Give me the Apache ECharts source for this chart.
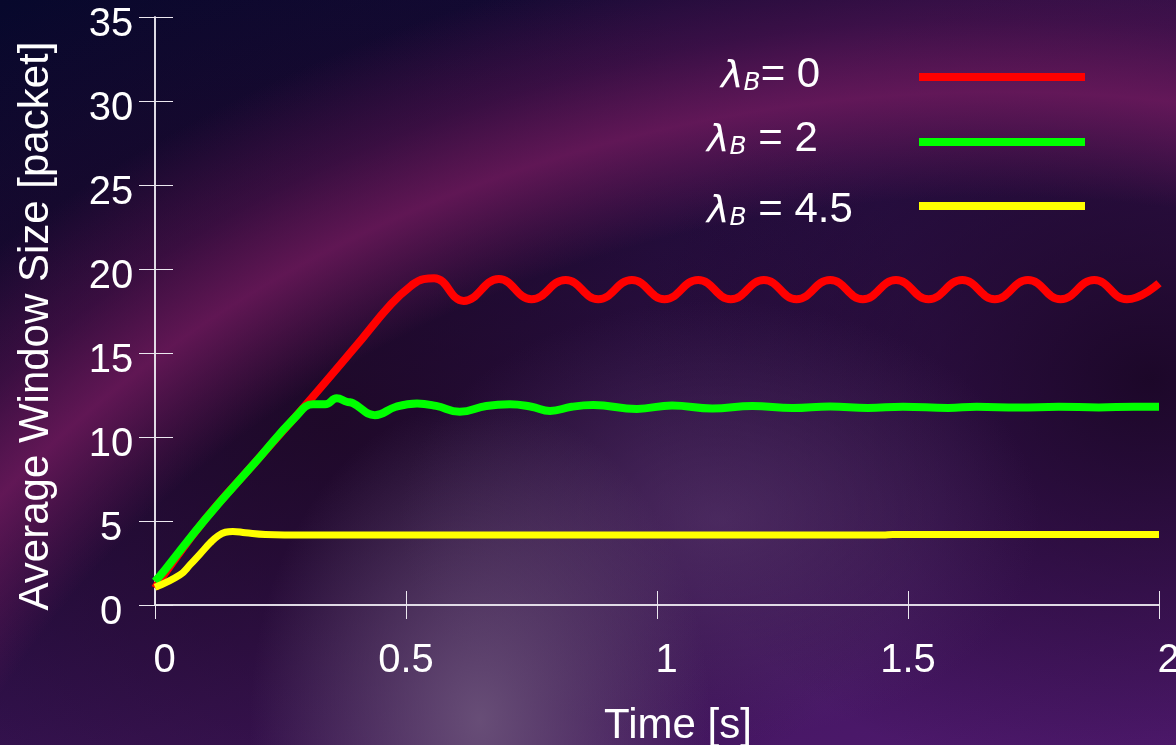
<!DOCTYPE html>
<html>
<head>
<meta charset="utf-8">
<script src="https://cdn.jsdelivr.net/npm/echarts@6/dist/echarts.min.js"></script>
<style>
html,body{margin:0;padding:0;}
body{
  width:1176px;height:745px;overflow:hidden;
  background:
    radial-gradient(ellipse 230px 320px at 480px 720px, rgba(112,88,126,0.85), rgba(112,88,126,0) 100%),
    radial-gradient(ellipse 320px 220px at 720px 520px, rgba(95,62,115,0.55), rgba(95,62,115,0) 100%),
    radial-gradient(ellipse 1300px 1050px at 1000px 1100px, rgba(120,25,100,0) 86%, rgba(125,28,100,0.7) 96%, rgba(105,22,92,0.4) 103%, rgba(100,20,90,0) 112%),
    radial-gradient(ellipse 520px 420px at 1150px 380px, rgba(22,5,32,0.85), rgba(22,5,32,0) 100%),
    radial-gradient(ellipse 620px 480px at 330px 420px, rgba(28,7,34,0.8), rgba(28,7,34,0) 100%),
    linear-gradient(155deg, #07082c 0%, #1a0b38 30%, #3a1456 62%, #521a72 100%);
}
#chart{width:1176px;height:745px;}
</style>
</head>
<body>
<div id="chart"></div>
<script>
// ---- data ----
const seriesNames = ['λB = 0', 'λB = 2', 'λB = 4.5'];
const legendValues = ['0', '2', '4.5'];
const xTicks = [0, 0.5, 1, 1.5, 2];
const yTicks = [0, 5, 10, 15, 20, 25, 30, 35];
const xTitle = 'Time [s]';
const yTitle = 'Average Window Size [packet]';

const redData = [
  [0,1.0],[0.02,1.9],[0.1,5.1],[0.2,8.5],[0.3,11.9],[0.4,15.4],[0.47,17.9],[0.51,19.0],[0.535,19.4],[0.556,19.45],
  [0.615,18.1],[0.685,19.4],[0.75,18.2],[0.818,19.35],[0.883,18.2],[0.95,19.35],[1.015,18.2],[1.082,19.35],
  [1.147,18.2],[1.213,19.35],[1.278,18.2],[1.345,19.35],[1.41,18.2],[1.476,19.35],[1.541,18.2],[1.608,19.35],
  [1.673,18.2],[1.739,19.35],[1.804,18.2],[1.871,19.35],[1.936,18.2],[2.0,19.15]
];
const greenData = [
  [0,1.4],[0.02,2.1],[0.1,5.1],[0.2,8.5],[0.28,11.2],[0.315,11.95],[0.339,11.95],[0.362,12.3],[0.382,12.1],
  [0.395,12.0],[0.438,11.3],[0.48,11.8],[0.522,12.0],[0.56,11.85],[0.607,11.5],[0.66,11.85],[0.707,11.95],
  [0.75,11.8],[0.787,11.55],[0.83,11.8],[0.873,11.9],[0.96,11.67],[1.03,11.88],[1.11,11.7],[1.19,11.85],
  [1.27,11.72],[1.345,11.82],[1.42,11.73],[1.49,11.8],[1.58,11.73],[1.637,11.8],[1.72,11.75],[1.8,11.8],
  [1.88,11.76],[1.95,11.8],[2.0,11.8]
];
const yellowData = [
  [0,1.05],[0.05,1.8],[0.07,2.4],[0.09,3.05],[0.11,3.7],[0.125,4.1],[0.14,4.33],[0.155,4.38],[0.18,4.3],
  [0.22,4.2],[0.3,4.17],[0.6,4.17],[1.0,4.17],[1.45,4.17],[1.47,4.2],[2.0,4.2]
];

// ---- chart ----
const colors = ['#ff0000', '#00ff00', '#ffff00'];
const datasets = [redData, greenData, yellowData];
const FONT = '"Liberation Sans", Arial, sans-serif';
const SYMFONT = '"DejaVu Sans", sans-serif';
const axisColor = '#ece8f0';

const chart = echarts.init(document.getElementById('chart'), null, {renderer: 'canvas'});

const commonAxis = {
  axisLine: {show: true, lineStyle: {color: axisColor, width: 1.5}},
  splitLine: {show: false}
};

const legendGraphics = [];
const legendTextX = [721, 707, 707];
const legendRowY = [77, 142, 206];
const legendBaseline = [90, 154, 225];
legendValues.forEach((v, i) => {
  const sep = i === 0 ? '= ' : ' = ';
  legendGraphics.push({
    type: 'text', left: legendTextX[i], top: legendBaseline[i] - 36, z: 10,
    style: {
      text: '{l|λ}{b|B}{t|' + sep + v + '}',
      rich: {
        l: {fontSize: 38, fontStyle: 'italic', fontFamily: SYMFONT, fill: '#fff', verticalAlign: 'bottom', lineHeight: 46},
        b: {fontSize: 25, fontStyle: 'italic', fontFamily: SYMFONT, fill: '#fff', verticalAlign: 'bottom', lineHeight: 46},
        t: {fontSize: 42, fontFamily: FONT, fill: '#fff', verticalAlign: 'bottom', lineHeight: 46}
      }
    }
  });
  legendGraphics.push({
    type: 'line', z: 10,
    shape: {x1: 919, y1: legendRowY[i], x2: 1085, y2: legendRowY[i]},
    style: {stroke: colors[i], lineWidth: 8}
  });
});

const option = {
  backgroundColor: 'transparent',
  animation: false,
  textStyle: {fontFamily: FONT},
  grid: {left: 155, right: 17, top: 17, bottom: 140, containLabel: false, outerBoundsMode: 'none'},
  xAxis: [
    Object.assign({}, commonAxis, {
      type: 'value', min: xTicks[0], max: xTicks[xTicks.length - 1], interval: 0.5, position: 'bottom',
      axisTick: {show: true, inside: true, length: 14, lineStyle: {color: axisColor, width: 1}},
      axisLabel: {
        show: true, color: '#fff', fontSize: 40, fontFamily: FONT, margin: 36,
        formatter: v => Number.isInteger(v) ? '{i|' + v + '}' : '{f|' + v + '}',
        rich: {
          i: {fontSize: 40, fontFamily: FONT, color: '#fff', padding: [0, 0, 0, 19]},
          f: {fontSize: 40, fontFamily: FONT, color: '#fff'}
        }
      },
      name: xTitle, nameLocation: 'middle', nameGap: 100,
      nameTextStyle: {color: '#fff', fontSize: 42, fontFamily: FONT, padding: [0, 0, 0, 42]}
    }),
    Object.assign({}, commonAxis, {
      type: 'value', min: xTicks[0], max: xTicks[xTicks.length - 1], interval: 0.5, position: 'top',
      axisTick: {show: true, inside: true, length: 14, lineStyle: {color: axisColor, width: 1}},
      axisLabel: {show: false}
    })
  ],
  yAxis: [
    Object.assign({}, commonAxis, {
      type: 'value', min: yTicks[0], max: yTicks[yTicks.length - 1], interval: 5, position: 'left',
      axisTick: {show: true, inside: true, length: 18, lineStyle: {color: axisColor, width: 1}},
      axisLabel: {
        show: true, color: '#fff', fontSize: 40, fontFamily: FONT, margin: 44, align: 'center',
        formatter: v => '{a|' + v + '}',
        rich: {a: {fontSize: 40, fontFamily: FONT, color: '#fff', padding: [15, 0, 0, 0]}}
      },
      name: yTitle, nameLocation: 'middle', nameGap: 98,
      nameTextStyle: {color: '#fff', fontSize: 42, fontFamily: FONT, padding: [0, 30, 0, 0]}
    }),
    Object.assign({}, commonAxis, {
      type: 'value', min: yTicks[0], max: yTicks[yTicks.length - 1], interval: 5, position: 'right',
      axisTick: {show: true, inside: true, length: 16, lineStyle: {color: axisColor, width: 1}},
      axisLabel: {show: false}
    })
  ],
  series: datasets.map((d, i) => ({
    name: seriesNames[i], type: 'line', data: d, xAxisIndex: 0, yAxisIndex: 0,
    showSymbol: false, smooth: 0.45, clip: false, z: 3 + i,
    lineStyle: {color: colors[i], width: i === 2 ? 7 : 8},
    itemStyle: {color: colors[i]}
  })),
  graphic: legendGraphics
};
chart.setOption(option);
</script>
</body>
</html>
